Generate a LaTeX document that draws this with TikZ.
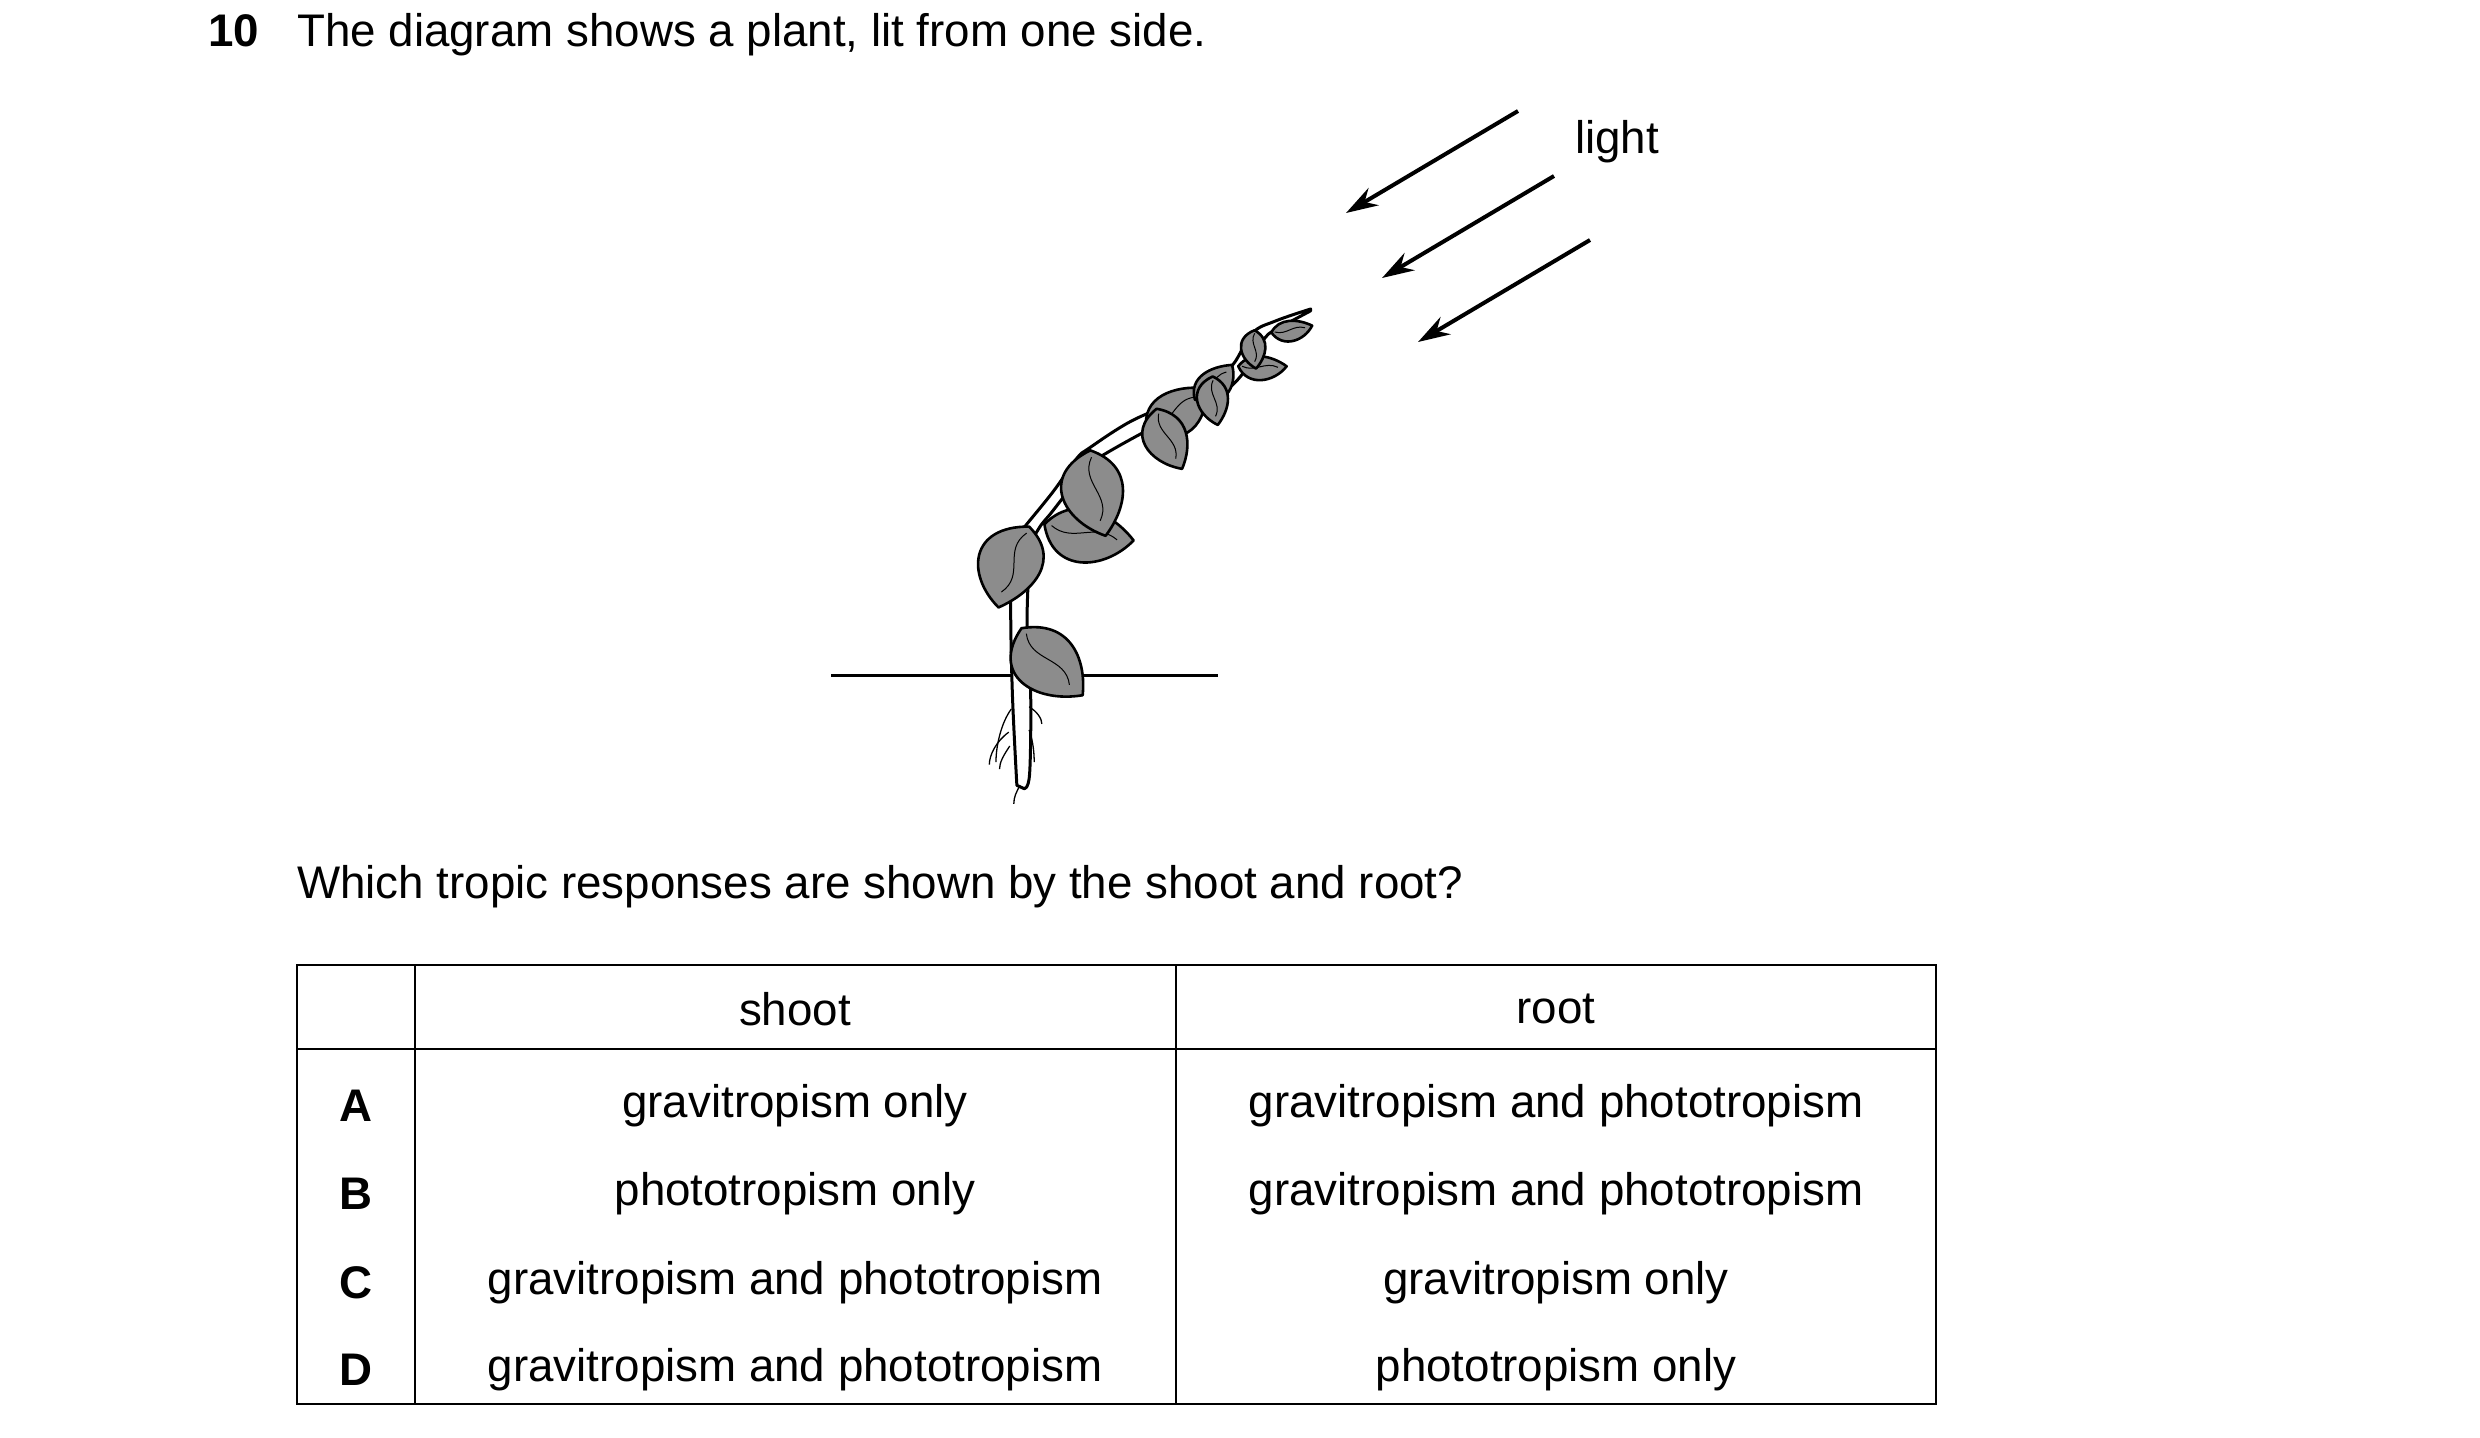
\documentclass[tikz,border=0pt]{standalone}
\usepackage{fontspec}
\setmainfont{Liberation Sans}
\usetikzlibrary{arrows.meta}
\newcommand\leaf[5]{%
 \pgfmathsetmacro\la{atan2(#4-#2,#3-#1)}%
 \pgfmathsetmacro\ll{veclen(#3-#1,#4-#2)}%
 \begin{scope}[shift={(#1,#2)},rotate=\la,xscale=\ll,yscale=#5*\ll]
  \draw[leafs] (0,0) .. controls (0.2,0.6) and (0.75,0.45) .. (1,0) .. controls (0.7,-0.3) and (0.25,-0.45) .. cycle;
  \draw[rib] (0.08,0) .. controls (0.35,0.18) and (0.55,-0.15) .. (0.82,0.03);
 \end{scope}}
\begin{document}
\begin{tikzpicture}[x=1pt,y=-1pt,
 txt/.style={font=\fontsize{45.7}{52}\selectfont,inner sep=0},
 leafs/.style={fill=black!45,draw=black,line width=2.6pt,line join=round},
 rib/.style={draw=black,line width=1pt},
 ray/.style={line width=4pt,-{Stealth[length=32pt,width=20pt]}},
 grid/.style={line width=2pt}]
\useasboundingbox (0,0) rectangle (2480,1437);
\node[txt,anchor=base west,font=\fontsize{45.7}{52}\selectfont\bfseries] (num) at (208,47) {10};
\node[txt,anchor=base west] (title) at (297,47) {The diagram shows a plant, lit from one side.};
% light arrows
\coordinate (a1s) at (1518,111); \coordinate (a1e) at (1346,213);
\coordinate (a2s) at (1554,176); \coordinate (a2e) at (1382,278);
\coordinate (a3s) at (1590,240); \coordinate (a3e) at (1418,342);
\draw[ray] (a1s) -- (a1e);
\draw[ray] (a2s) -- (a2e);
\draw[ray] (a3s) -- (a3e);
\node[txt,anchor=base west] (light) at (1575,153) {light};
% ground
\coordinate (g1) at (831,675); \coordinate (g2) at (1218,675);
\draw[line width=3pt] (g1) -- (g2);
% plant in zoom coords
\begin{scope}[shift={(820,90)},xscale=0.51,yscale=0.462]
 \draw[fill=white,line width=3pt,line join=round]
 plot[smooth,tension=0.6] coordinates {(386,1505) (377,1300) (374,1100) (380,975) (403,943) (458,868) (503,798) (528,775) (608,718) (698,674) (768,634) (810,594) (848,526) (893,500) (962,474)}
 -- plot[smooth,tension=0.6] coordinates {(962,478) (902,514) (873,536) (835,605) (795,651) (733,686) (643,736) (563,785) (533,808) (501,848) (455,913) (428,951) (413,998) (406,1150) (413,1300) (411,1480) (400,1512)} -- cycle;
 \leaf{410}{945}{350}{770}{1.0}
 \leaf{440}{940}{615}{905}{0.95}
 \leaf{395}{1165}{515}{1020}{1.0}
 \leaf{530}{780}{560}{595}{0.95}
 \leaf{640}{735}{755}{825}{0.95}
 \leaf{660}{690}{710}{560}{0.9}
 \leaf{735}{670}{808}{745}{0.9}
 \leaf{770}{620}{780}{515}{0.85}
 \leaf{820}{598}{915}{598}{0.8}
 \leaf{852}{520}{855}{437}{0.85}
 \leaf{885}{525}{965}{540}{0.8}
 \draw[line width=1.3pt] (375,1340) .. controls (355,1370) and (345,1420) .. (345,1455);
 \draw[line width=1.3pt] (370,1390) .. controls (345,1410) and (332,1440) .. (332,1460);
 \draw[line width=1.3pt] (372,1420) .. controls (360,1440) and (352,1455) .. (352,1470);
 \draw[line width=1.3pt] (410,1335) .. controls (425,1345) and (435,1360) .. (435,1372);
 \draw[line width=1.3pt] (410,1385) .. controls (418,1410) and (420,1435) .. (420,1455);
 \draw[line width=1.3pt] (392,1505) .. controls (385,1520) and (380,1530) .. (380,1545);
\end{scope}
\node[txt,anchor=base west] (q) at (297,898) {Which tropic responses are shown by the shoot and root?};
% table
\coordinate (t1) at (297,965); \coordinate (t2) at (1936,1404);
\draw[grid] (t1) rectangle (t2);
\draw[grid] (297,1049) -- (1936,1049);
\draw[grid] (415,965) -- (415,1404);
\draw[grid] (1176,965) -- (1176,1404);
\node[txt] (hs) at (795,1009) {shoot};
\node[txt] (hr) at (1556,1009) {root};
\foreach \y/\l/\s/\r in {1106/A/gravitropism only/gravitropism and phototropism,
 1194/B/phototropism only/gravitropism and phototropism,
 1283/C/gravitropism and phototropism/gravitropism only,
 1370/D/gravitropism and phototropism/phototropism only}{
 \node[txt,font=\fontsize{45.7}{52}\selectfont\bfseries] (L\l) at (356,\y) {\l};
 \node[txt] (S\l) at (795,\y) {\s};
 \node[txt] (R\l) at (1556,\y) {\r};
}
\end{tikzpicture}
\end{document}
